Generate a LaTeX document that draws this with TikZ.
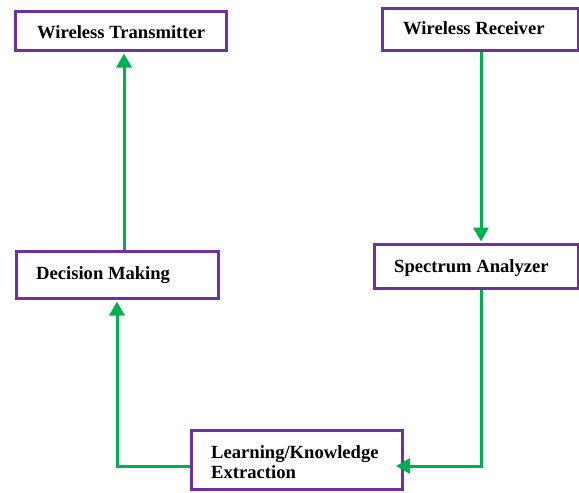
\documentclass[tikz,border=0pt]{standalone}
\usepackage{fontspec}
\setmainfont{Liberation Serif}
\usetikzlibrary{arrows.meta,calc}
\definecolor{boxpurple}{RGB}{112,48,160}
\definecolor{arrgreen}{RGB}{0,176,80}
\tikzset{
  box/.style={draw=boxpurple,line width=3pt,fill=white,minimum width=#1,inner sep=0pt},
  lbl/.style={anchor=base west,inner sep=0pt,font=\fontsize{18.6}{20}\selectfont\bfseries},
  arr/.style={draw=arrgreen,line width=3pt,-{Triangle[length=14pt,width=15pt]}},
}
\begin{document}
\begin{tikzpicture}[x=1pt,y=-1pt]
\useasboundingbox (0,0) rectangle (579,493);
% boxes
\node[box=211pt,minimum height=39pt] (tx) at (121,31) {};
\node[box=196pt,minimum height=42pt] (rx) at (480.5,29.5) {};
\node[box=202pt,minimum height=47pt] (dm) at (117.5,275) {};
\node[box=204pt,minimum height=44pt] (sa) at (476.5,266.5) {};
\node[box=211pt,minimum height=59pt] (lk) at (297,460) {};
% labels
\node[lbl] (txl) at (37,38) {Wireless Transmitter};
\node[lbl] (rxl) at (403,34) {Wireless Receiver};
\node[lbl] (dml) at (36,279) {Decision Making};
\node[lbl] (sal) at (394,272) {Spectrum Analyzer};
\node[lbl] (lkl) at (211,458) {Learning/Knowledge};
\node[lbl] (lkl2) at (211,478) {Extraction};
% corner coordinates
\coordinate (c1) at (481,466);
\coordinate (c2) at (117,466);
\coordinate (lkin) at (396,466);
% connectors
\draw[arr] ([xshift=6.5pt]dm.north) -- ([xshift=6.5pt,yshift=-1.5pt]dm.north |- tx.south);
\draw[arr] (rx.south -| c1) -- ([yshift=1.5pt]sa.north -| c1);
\draw[arr] (sa.south -| c1) -- (c1) -- (lkin);
\draw[arr] (lk.west |- c2) -- (c2) -- ([yshift=-1.5pt]dm.south -| c2);
\end{tikzpicture}
\end{document}
